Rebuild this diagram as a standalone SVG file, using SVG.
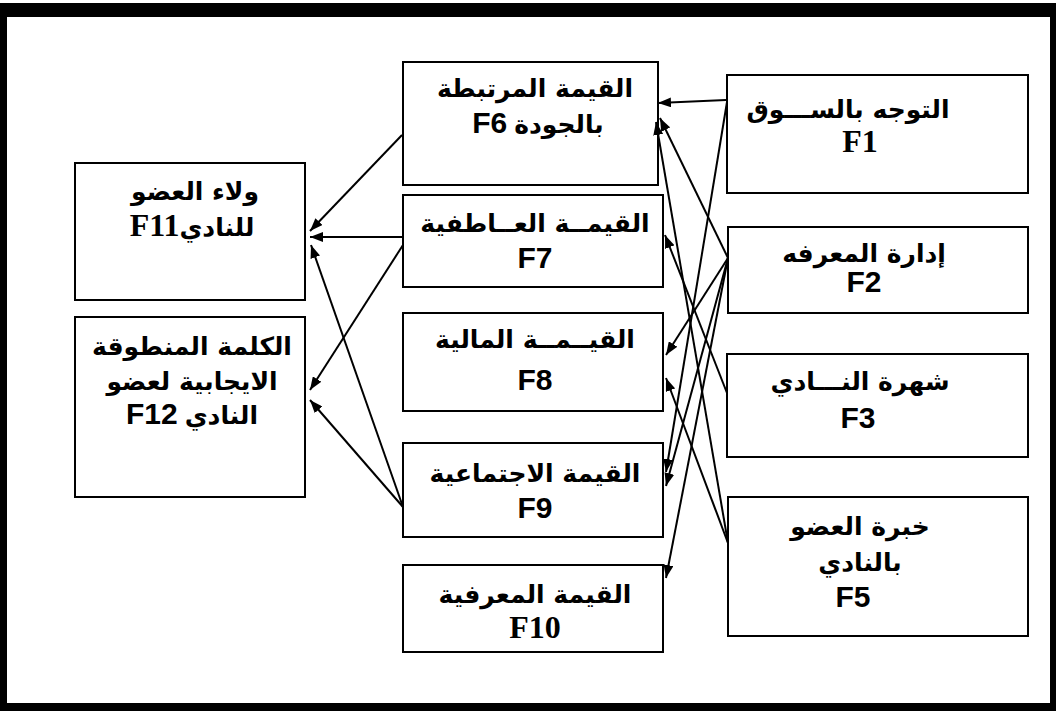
<svg xmlns="http://www.w3.org/2000/svg" width="1056" height="711" viewBox="0 0 1056 711">
<style>
.box{fill:#fff;stroke:#000;stroke-width:2}
.ar{font-family:"DejaVu Sans","Noto Sans",sans-serif;font-size:25px;font-weight:bold;fill:#000;text-anchor:middle;direction:rtl}
.fs{font-family:"Liberation Sans","DejaVu Sans",sans-serif;font-size:30px;font-weight:bold;fill:#000;text-anchor:middle}
.fr{font-family:"Liberation Serif","DejaVu Sans",serif;font-size:32px;font-weight:bold;fill:#000;text-anchor:middle}
.mix{font-family:"Liberation Sans","DejaVu Sans",sans-serif;font-size:25px;font-weight:bold;fill:#000;text-anchor:middle;direction:rtl}
.c line{stroke:#000;stroke-width:2;marker-end:url(#ah)}
</style>
<defs>
<marker id="ah" markerUnits="userSpaceOnUse" markerWidth="14" markerHeight="10" refX="13" refY="5" orient="auto">
<path d="M0,0 L13,5 L0,10 Z" fill="#000"/>
</marker>
</defs>
<rect width="1056" height="711" fill="#fff"/>
<g id="frame" fill="#000">
<rect x="0" y="3" width="1056" height="14"/>
<rect x="0" y="3" width="7" height="708"/>
<rect x="0" y="703" width="1056" height="8"/>
<rect x="1050" y="3" width="6" height="708"/>
</g>
<g id="F6"><rect class="box" x="403" y="62" width="255" height="123"/>
<text class="ar" x="535" y="97">القيمة المرتبطة</text>
<text class="mix" x="538" y="133">بالجودة <tspan font-size="30">F6</tspan></text></g>
<g id="F7"><rect class="box" x="403" y="195" width="260" height="92"/>
<text class="ar" x="535" y="232">القيمــة العــاطفية</text>
<text class="fs" x="535" y="268">F7</text></g>
<g id="F8"><rect class="box" x="403" y="313" width="260" height="98"/>
<text class="ar" x="535" y="348">القيــمــة المالية</text>
<text class="fs" x="535" y="390">F8</text></g>
<g id="F9"><rect class="box" x="403" y="443" width="260" height="94"/>
<text class="ar" x="535" y="482">القيمة الاجتماعية</text>
<text class="fs" x="535" y="518">F9</text></g>
<g id="F10"><rect class="box" x="403" y="565" width="260" height="87"/>
<text class="ar" x="535" y="603">القيمة المعرفية</text>
<text class="fr" x="535" y="638">F10</text></g>
<g id="F1"><rect class="box" x="727" y="75" width="301" height="118"/>
<text class="ar" x="848" y="118">التوجه بالســـوق</text>
<text class="fr" x="860" y="152">F1</text></g>
<g id="F2"><rect class="box" x="728" y="227" width="300" height="86"/>
<text class="ar" x="864" y="262">إدارة المعرفه</text>
<text class="fs" x="864" y="292">F2</text></g>
<g id="F3"><rect class="box" x="727" y="354" width="301" height="103"/>
<text class="ar" x="860" y="390">شهرة النـــادي</text>
<text class="fs" x="858" y="428">F3</text></g>
<g id="F5"><rect class="box" x="728" y="497" width="300" height="139"/>
<text class="ar" x="860" y="535">خبرة العضو</text>
<text class="ar" x="860" y="571">بالنادي</text>
<text class="fs" x="853" y="607">F5</text></g>
<g id="F11"><rect class="box" x="75" y="163" width="230" height="137"/>
<text class="ar" x="195" y="200">ولاء العضو</text>
<text class="mix" x="192" y="236">للنادي<tspan font-family="Liberation Serif" font-size="32">F11</tspan></text></g>
<g id="F12"><rect class="box" x="75" y="317" width="230" height="180"/>
<text class="ar" x="192" y="355">الكلمة المنطوقة</text>
<text class="ar" x="192" y="390">الايجابية لعضو</text>
<text class="mix" x="192" y="424">النادي <tspan font-size="30">F12</tspan></text></g>
<g id="connectors" class="c">
<line x1="726" y1="100" x2="658" y2="103"/>
<line x1="727" y1="102" x2="666" y2="472"/>
<line x1="728" y1="258" x2="660" y2="118"/>
<line x1="728" y1="258" x2="666" y2="355"/>
<line x1="728" y1="258" x2="666" y2="486"/>
<line x1="728" y1="258" x2="666" y2="578"/>
<line x1="728" y1="543" x2="656" y2="122"/>
<line x1="727" y1="393" x2="665" y2="235"/>
<line x1="728" y1="543" x2="666" y2="378"/>
<line x1="402" y1="135" x2="310" y2="231"/>
<line x1="403" y1="237" x2="310" y2="237"/>
<line x1="403" y1="245" x2="310" y2="390"/>
<line x1="403" y1="507" x2="311" y2="245"/>
<line x1="403" y1="507" x2="310" y2="400"/>
</g>
</svg>
